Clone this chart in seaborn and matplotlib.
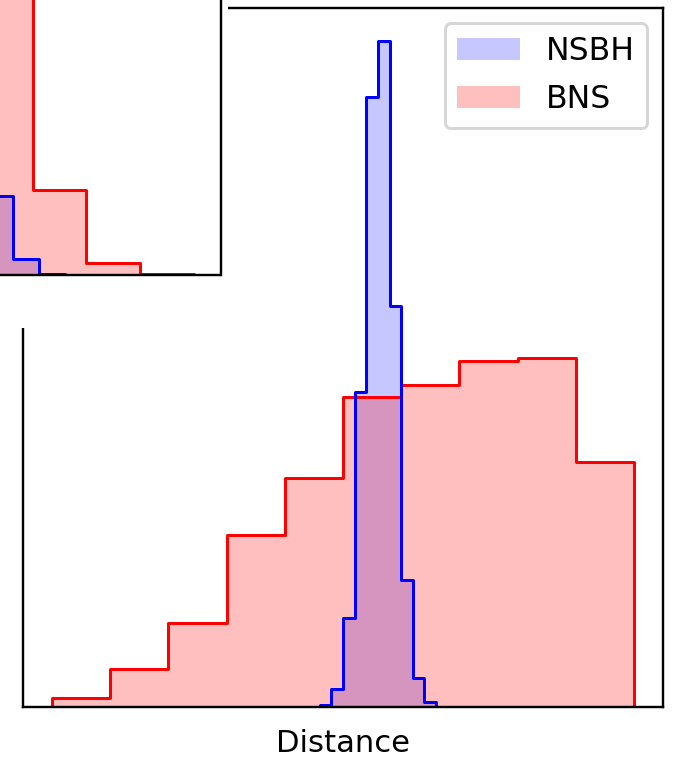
import numpy as np
import matplotlib
matplotlib.use("Agg")
import matplotlib.pyplot as plt
from matplotlib.colors import to_rgba
from matplotlib.patches import Patch, Rectangle
import seaborn as sns

# Distance distributions (main panel)
bns_edges = list(range(0, 501, 50))
bns_counts = [9, 38, 84, 173, 230, 311, 323, 347, 350, 246]
nsbh_edges = list(range(230, 331, 10))
nsbh_counts = [2, 18, 89, 316, 613, 669, 403, 128, 29, 5]

# Upper tail of the secondary panel
inset_bns_edges = [6.0, 7.0, 8.0, 9.0, 10.0]
inset_bns_counts = [533, 85, 12, 1.3]
inset_nsbh_edges = [6.14, 6.63, 7.12, 7.61]
inset_nsbh_counts = [79, 16, 1.3]

labels = ["NSBH", "BNS"]
colors = ["blue", "red"]
alphas = [0.22, 0.25]

W, H, DPI = 674, 759, 216
fig = plt.figure(figsize=(W / DPI, H / DPI), dpi=DPI)


def centers(edges):
    edges = np.asarray(edges, dtype=float)
    return (edges[:-1] + edges[1:]) / 2


def draw(ax, sets):
    # translucent fills first (NSBH, then BNS) ...
    for (edges, counts), color, alpha in zip(sets, colors, alphas):
        sns.histplot(x=centers(edges), weights=np.asarray(counts, float),
                     bins=[float(e) for e in edges],
                     element="step", fill=True, color=color, alpha=alpha,
                     linewidth=0, ax=ax)
    # ... then the outlines, BNS underneath NSBH
    for (edges, counts), color in reversed(list(zip(sets, colors))):
        sns.histplot(x=centers(edges), weights=np.asarray(counts, float),
                     bins=[float(e) for e in edges],
                     element="step", fill=True, color=color, alpha=0.0,
                     linewidth=1.0, ax=ax)
    ax.set_xticks([])
    ax.set_yticks([])
    ax.set_ylabel("")
    ax.set_xlabel("")


# main axes
ax = fig.add_axes([23 / W, (H - 707) / H, 640 / W, 699.5 / H])
draw(ax, [(nsbh_edges, nsbh_counts), (bns_edges, bns_counts)])
ax.set_xlabel("Distance", fontsize=10.2, labelpad=7.2)
handles = [Patch(facecolor=to_rgba(c, a), edgecolor="none", label=l)
           for l, c, a in zip(labels, colors, alphas)]
ax.legend(handles=handles, loc="upper right", fontsize=10.5,
          labelspacing=0.56)
ax.set_zorder(0)

# white backing behind the secondary panel
fig.add_artist(Rectangle((0, 1 - 328 / H), 228 / W, 328 / H,
                         transform=fig.transFigure, facecolor="white",
                         edgecolor="none", zorder=1))

# secondary panel, partly beyond the figure edge
ins = fig.add_axes([-370 / W, (H - 275) / H, 590.5 / W, 560 / H])
draw(ins, [(inset_nsbh_edges, inset_nsbh_counts),
           (inset_bns_edges, inset_bns_counts)])
ins.set_xlim(-0.5, 10.5)
ins.set_zorder(2)

fig.savefig("out.png", dpi=DPI)
